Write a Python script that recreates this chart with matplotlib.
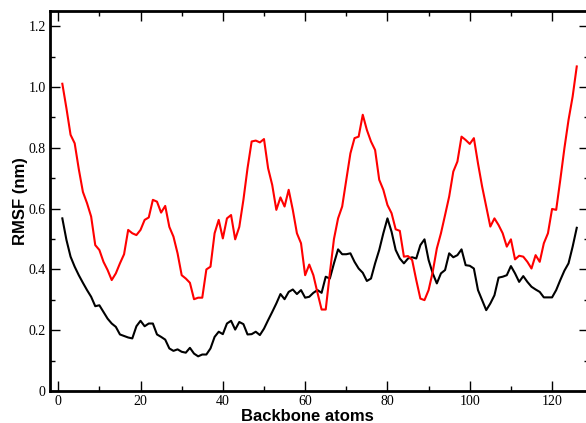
import numpy as np
import matplotlib
matplotlib.use("Agg")
import matplotlib.pyplot as plt
from matplotlib.ticker import MultipleLocator

# numéro d'atome du squelette
atoms = np.arange(1, 127)

# RMSF (nm), courbe rouge
rmsf_red = [
    1.011, 0.93, 0.843, 0.815, 0.73, 0.655, 0.618, 0.574, 0.48, 0.464,
    0.425, 0.398, 0.365, 0.387, 0.42, 0.45, 0.53, 0.519, 0.513, 0.53,
    0.563, 0.571, 0.629, 0.623, 0.587, 0.609, 0.54, 0.508, 0.453, 0.381,
    0.37, 0.356, 0.302, 0.307, 0.307, 0.40, 0.409, 0.519, 0.563, 0.502,
    0.568, 0.579, 0.499, 0.54, 0.629, 0.733, 0.821, 0.824, 0.818, 0.829,
    0.733, 0.678, 0.596, 0.637, 0.607, 0.662, 0.596, 0.519, 0.486, 0.381,
    0.416, 0.381, 0.323, 0.268, 0.268, 0.387, 0.50, 0.568, 0.607, 0.695,
    0.782, 0.832, 0.837, 0.909, 0.859, 0.821, 0.793, 0.695, 0.662, 0.612,
    0.585, 0.532, 0.527, 0.442, 0.444, 0.431, 0.365, 0.304, 0.299, 0.332,
    0.392, 0.469, 0.519, 0.579, 0.64, 0.722, 0.755, 0.837, 0.826, 0.813,
    0.832, 0.749, 0.673, 0.607, 0.541, 0.568, 0.546, 0.519, 0.475, 0.499,
    0.433, 0.445, 0.442, 0.425, 0.403, 0.447, 0.425, 0.486, 0.519, 0.599,
    0.596, 0.695, 0.799, 0.892, 0.969, 1.068,
]

# RMSF (nm), courbe noire
rmsf_black = [
    0.568, 0.497, 0.442, 0.409, 0.381, 0.356, 0.332, 0.31, 0.279, 0.282,
    0.26, 0.238, 0.222, 0.211, 0.186, 0.181, 0.176, 0.173, 0.213, 0.231,
    0.213, 0.222, 0.222, 0.186, 0.178, 0.169, 0.14, 0.132, 0.137, 0.129,
    0.126, 0.142, 0.123, 0.114, 0.12, 0.12, 0.14, 0.178, 0.195, 0.187,
    0.222, 0.231, 0.202, 0.227, 0.22, 0.186, 0.187, 0.195, 0.184, 0.205,
    0.233, 0.26, 0.288, 0.319, 0.302, 0.326, 0.334, 0.319, 0.332, 0.307,
    0.31, 0.323, 0.332, 0.323, 0.376, 0.37, 0.42, 0.466, 0.45, 0.45,
    0.453, 0.425, 0.403, 0.389, 0.362, 0.37, 0.42, 0.464, 0.519, 0.568,
    0.524, 0.464, 0.436, 0.42, 0.436, 0.44, 0.436, 0.48, 0.499, 0.431,
    0.387, 0.354, 0.387, 0.398, 0.453, 0.44, 0.447, 0.466, 0.414, 0.412,
    0.403, 0.332, 0.299, 0.266, 0.288, 0.315, 0.373, 0.376, 0.381, 0.411,
    0.387, 0.359, 0.378, 0.359, 0.343, 0.334, 0.326, 0.308, 0.308, 0.308,
    0.332, 0.365, 0.396, 0.42, 0.475, 0.537,
]

fig = plt.figure(figsize=(5.86, 4.23), dpi=100)
ax = fig.add_axes([0.0853, 0.0757, 0.92, 0.898])

ax.plot(atoms, rmsf_black, color="black", linewidth=1.5)
ax.plot(atoms, rmsf_red, color="red", linewidth=1.5)

ax.set_xlim(-2, 129)
ax.set_ylim(0, 1.25)

ax.xaxis.set_major_locator(MultipleLocator(20))
ax.xaxis.set_minor_locator(MultipleLocator(10))
ax.yaxis.set_minor_locator(MultipleLocator(0.1))
ax.set_yticks(np.arange(0, 1.21, 0.2))
ax.set_yticklabels(["0", "0.2", "0.4", "0.6", "0.8", "1.0", "1.2"])

ax.tick_params(which="both", direction="in", top=True, right=True, width=1)
ax.tick_params(which="major", length=7, pad=3)
ax.tick_params(which="minor", length=3.5)
for lab in ax.get_xticklabels() + ax.get_yticklabels():
    lab.set_fontfamily("Liberation Serif")
    lab.set_fontsize(10)

for s in ax.spines.values():
    s.set_linewidth(2)

ax.set_xlabel("Backbone atoms", fontfamily="Liberation Sans", fontweight="bold",
              fontsize=12, labelpad=0.5, x=0.478)
ax.set_ylabel("RMSF (nm)", fontfamily="Liberation Sans", fontweight="bold",
              fontsize=12, labelpad=0)

fig.savefig("out.png", dpi=100)
